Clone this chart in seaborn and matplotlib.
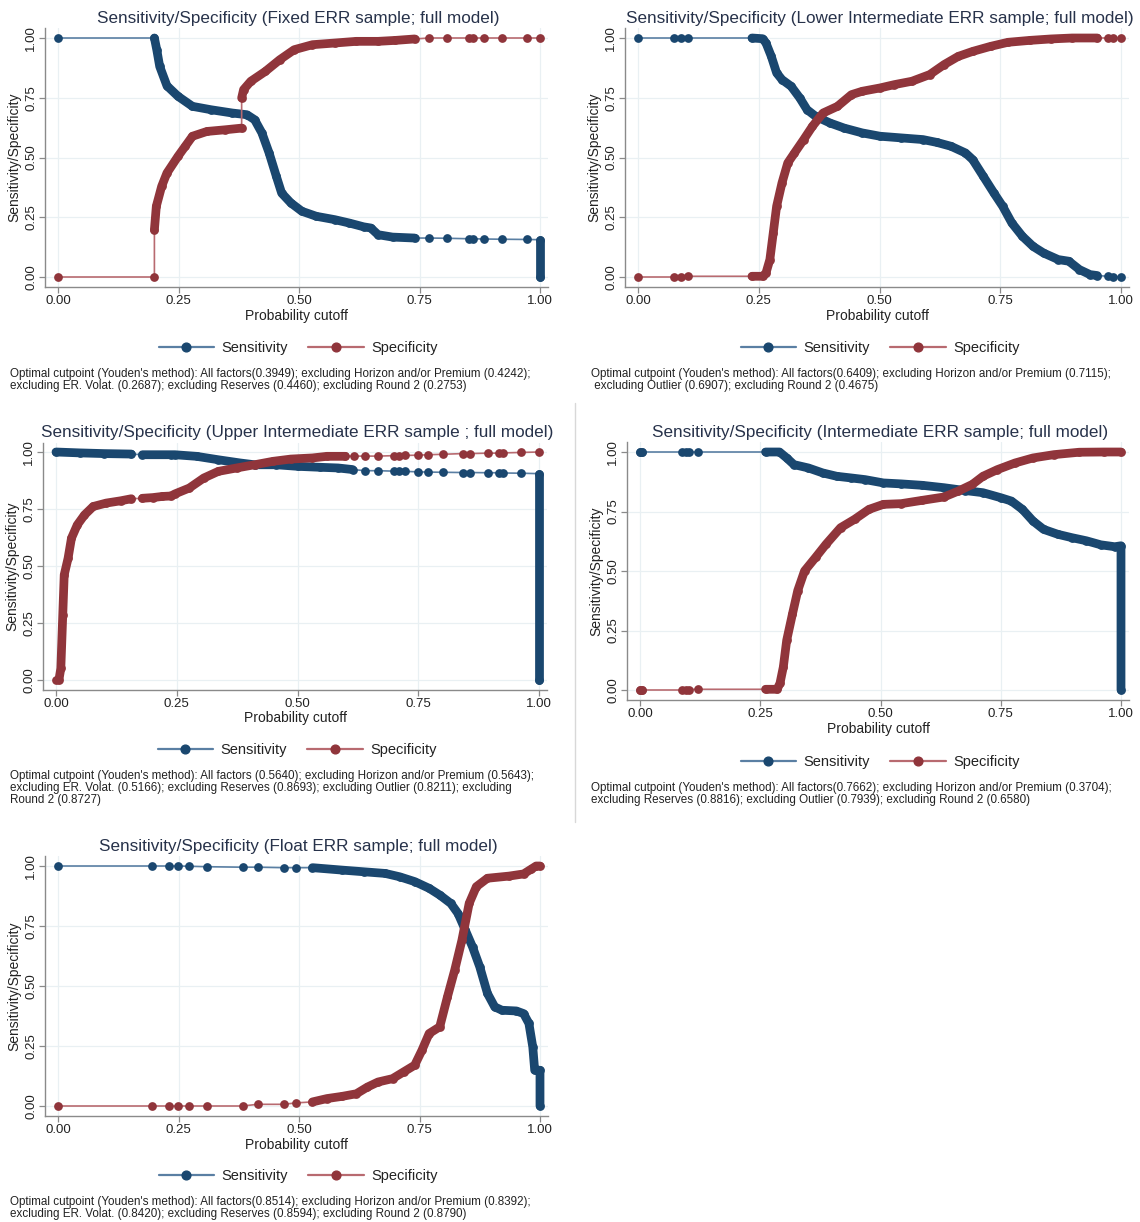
import matplotlib
matplotlib.use("Agg")
import matplotlib.pyplot as plt
from matplotlib.lines import Line2D
import seaborn as sns

sns.set_theme(style="white")
plt.rcParams['font.family'] = ['Liberation Sans', 'DejaVu Sans']

# ---------------- data ----------------
# Panel 1: Fixed ERR
fixed_sens_x = [0.000, 0.200, 0.205, 0.211, 0.226, 0.249, 0.279, 0.317, 0.362, 0.392,
                0.408, 0.423, 0.438, 0.453, 0.464, 0.483, 0.506, 0.536, 0.574, 0.604,
                0.634, 0.649, 0.664, 0.694, 0.740, 0.770, 0.808, 0.853, 0.860, 0.883,
                0.921, 0.974, 1.000, 1.000]
fixed_sens_y = [1.000, 1.000, 0.950, 0.881, 0.800, 0.756, 0.714, 0.700, 0.686, 0.679,
                0.658, 0.603, 0.519, 0.421, 0.351, 0.310, 0.275, 0.254, 0.240, 0.226,
                0.210, 0.205, 0.177, 0.167, 0.163, 0.163, 0.162, 0.160, 0.160, 0.159,
                0.158, 0.157, 0.156, 0.000]
fixed_sens_dense = [(1, 24), (32, 33)]
fixed_spec_x = [0.000, 0.200, 0.200, 0.204, 0.215, 0.226, 0.249, 0.264, 0.279, 0.309,
                0.347, 0.381, 0.381, 0.385, 0.400, 0.430, 0.460, 0.490, 0.528, 0.574,
                0.619, 0.664, 0.700, 0.740, 0.770, 0.808, 0.853, 0.860, 0.883, 0.921,
                0.974, 1.000]
fixed_spec_y = [0.000, 0.000, 0.198, 0.296, 0.379, 0.435, 0.505, 0.547, 0.589, 0.609,
                0.616, 0.623, 0.749, 0.784, 0.819, 0.860, 0.909, 0.951, 0.972, 0.979,
                0.986, 0.986, 0.990, 0.996, 1.000, 1.000, 1.000, 1.000, 1.000, 1.000,
                1.000, 1.000]
fixed_spec_dense = [(2, 11), (12, 23)]

# Panel 2: Lower Intermediate ERR
lower_sens_x = [0.000, 0.075, 0.088, 0.103, 0.236, 0.258, 0.265, 0.276, 0.287, 0.298,
                0.317, 0.335, 0.350, 0.368, 0.398, 0.427, 0.464, 0.501, 0.545, 0.590,
                0.619, 0.648, 0.678, 0.693, 0.715, 0.737, 0.755, 0.774, 0.796, 0.818,
                0.840, 0.870, 0.892, 0.914, 0.936, 0.951, 0.973, 0.984, 1.000]
lower_sens_y = [1.000, 1.000, 1.000, 1.000, 1.000, 0.997, 0.979, 0.923, 0.854, 0.826,
                0.798, 0.749, 0.700, 0.672, 0.644, 0.623, 0.603, 0.589, 0.582, 0.575,
                0.563, 0.547, 0.519, 0.491, 0.421, 0.351, 0.296, 0.226, 0.170, 0.128,
                0.100, 0.073, 0.066, 0.031, 0.010, 0.006, 0.003, 0.002, 0.000]
lower_sens_dense = [(4, 35)]
lower_spec_x = [0.000, 0.075, 0.088, 0.103, 0.236, 0.258, 0.265, 0.273, 0.280, 0.287,
                0.298, 0.310, 0.324, 0.343, 0.361, 0.383, 0.413, 0.442, 0.464, 0.501,
                0.531, 0.567, 0.604, 0.634, 0.663, 0.693, 0.730, 0.766, 0.811, 0.855,
                0.899, 0.951, 0.973, 0.984, 1.000]
lower_spec_y = [0.000, 0.000, 0.002, 0.003, 0.003, 0.003, 0.017, 0.073, 0.184, 0.296,
                0.393, 0.477, 0.519, 0.575, 0.630, 0.686, 0.714, 0.763, 0.777, 0.791,
                0.805, 0.819, 0.847, 0.889, 0.923, 0.944, 0.965, 0.982, 0.990, 0.996,
                1.000, 1.000, 1.000, 1.000, 1.000]
lower_spec_dense = [(4, 31)]

# Panel 3: Upper Intermediate ERR
upper_sens_x = [0.000, 0.050, 0.100, 0.156, 0.179, 0.238, 0.246, 0.291, 0.336, 0.381,
                0.411, 0.456, 0.501, 0.546, 0.584, 0.614, 0.640, 0.666, 0.700, 0.711,
                0.722, 0.749, 0.771, 0.801, 0.842, 0.857, 0.895, 0.917, 0.925, 0.962,
                1.000, 1.000]
upper_sens_y = [1.000, 0.996, 0.993, 0.991, 0.988, 0.988, 0.988, 0.981, 0.966, 0.952,
                0.944, 0.944, 0.937, 0.933, 0.930, 0.923, 0.918, 0.918, 0.916, 0.916,
                0.915, 0.913, 0.912, 0.911, 0.910, 0.910, 0.909, 0.909, 0.908, 0.907,
                0.905, 0.000]
upper_sens_dense = [(0, 3), (4, 15), (30, 31)]
upper_spec_x = [0.000, 0.006, 0.010, 0.014, 0.017, 0.025, 0.032, 0.044, 0.059, 0.077,
                0.104, 0.134, 0.156, 0.179, 0.200, 0.220, 0.238, 0.246, 0.276, 0.306,
                0.336, 0.374, 0.411, 0.449, 0.486, 0.531, 0.561, 0.599, 0.617, 0.640,
                0.666, 0.700, 0.711, 0.722, 0.749, 0.771, 0.801, 0.842, 0.857, 0.895,
                0.917, 0.925, 0.962, 1.000]
upper_spec_y = [0.000, 0.000, 0.051, 0.286, 0.461, 0.534, 0.622, 0.680, 0.724, 0.761,
                0.776, 0.786, 0.795, 0.797, 0.800, 0.805, 0.807, 0.816, 0.842, 0.886,
                0.915, 0.930, 0.944, 0.959, 0.969, 0.974, 0.981, 0.981, 0.982, 0.982,
                0.982, 0.984, 0.984, 0.985, 0.986, 0.988, 0.990, 0.993, 0.993, 0.995,
                0.995, 0.996, 0.998, 1.000]
upper_spec_dense = [(1, 12), (13, 27)]

# Panel 4: Intermediate ERR
inter_sens_x = [0.000, 0.005, 0.087, 0.095, 0.102, 0.120, 0.261, 0.290, 0.305, 0.320,
                0.350, 0.380, 0.409, 0.439, 0.468, 0.506, 0.543, 0.587, 0.632, 0.676,
                0.713, 0.750, 0.772, 0.795, 0.817, 0.839, 0.869, 0.898, 0.928, 0.958,
                0.987, 1.000, 1.000]
inter_sens_y = [1.000, 1.000, 1.000, 1.000, 1.000, 1.000, 1.000, 1.000, 0.975, 0.947,
                0.933, 0.912, 0.898, 0.891, 0.884, 0.870, 0.866, 0.860, 0.850, 0.838,
                0.829, 0.808, 0.794, 0.759, 0.710, 0.675, 0.654, 0.640, 0.627, 0.610,
                0.602, 0.606, 0.000]
inter_sens_dense = [(0, 1), (6, 32)]
inter_spec_x = [0.000, 0.005, 0.087, 0.095, 0.102, 0.120, 0.261, 0.285, 0.291, 0.298,
                0.305, 0.317, 0.328, 0.342, 0.365, 0.387, 0.417, 0.446, 0.476, 0.506,
                0.543, 0.587, 0.632, 0.662, 0.691, 0.713, 0.743, 0.780, 0.817, 0.861,
                0.913, 0.965, 1.000]
inter_spec_y = [0.000, 0.000, 0.000, 0.001, 0.002, 0.003, 0.003, 0.003, 0.028, 0.097,
                0.209, 0.320, 0.418, 0.500, 0.557, 0.613, 0.682, 0.717, 0.759, 0.780,
                0.783, 0.797, 0.811, 0.836, 0.864, 0.898, 0.926, 0.954, 0.975, 0.989,
                0.999, 1.000, 1.000]
inter_spec_dense = [(0, 1), (6, 32)]

# Panel 5: Float ERR
float_sens_x = [0.000, 0.196, 0.230, 0.249, 0.272, 0.309, 0.383, 0.414, 0.468, 0.494,
                0.528, 0.589, 0.634, 0.679, 0.709, 0.740, 0.770, 0.792, 0.815, 0.830,
                0.845, 0.860, 0.875, 0.891, 0.906, 0.921, 0.951, 0.966, 0.977, 0.985,
                0.989, 1.000, 1.000]
float_sens_y = [1.000, 1.000, 1.000, 1.000, 0.999, 0.997, 0.995, 0.995, 0.993, 0.993,
                0.993, 0.983, 0.976, 0.969, 0.955, 0.935, 0.907, 0.879, 0.844, 0.802,
                0.733, 0.663, 0.580, 0.469, 0.413, 0.399, 0.396, 0.385, 0.344, 0.246,
                0.149, 0.149, 0.000]
float_sens_dense = [(10, 32)]
float_spec_x = [0.000, 0.196, 0.230, 0.249, 0.272, 0.309, 0.383, 0.414, 0.468, 0.494,
                0.528, 0.558, 0.589, 0.619, 0.642, 0.664, 0.694, 0.717, 0.740, 0.755,
                0.770, 0.792, 0.808, 0.823, 0.838, 0.853, 0.868, 0.891, 0.936, 0.966,
                0.981, 0.992, 1.000]
float_spec_y = [0.000, 0.000, 0.000, 0.000, 0.000, 0.000, 0.000, 0.007, 0.007, 0.013,
                0.017, 0.031, 0.040, 0.051, 0.079, 0.100, 0.114, 0.142, 0.170, 0.232,
                0.302, 0.330, 0.455, 0.566, 0.691, 0.844, 0.914, 0.949, 0.958, 0.967,
                0.986, 1.000, 1.000]
float_spec_dense = [(10, 32)]

titles = [
    "Sensitivity/Specificity (Fixed ERR sample; full model)",
    "Sensitivity/Specificity (Lower Intermediate ERR sample; full model)",
    "Sensitivity/Specificity (Upper Intermediate ERR sample ; full model)",
    "Sensitivity/Specificity (Intermediate ERR sample; full model)",
    "Sensitivity/Specificity (Float ERR sample; full model)",
]
notes = [
    "Optimal cutpoint (Youden's method): All factors(0.3949); excluding Horizon and/or Premium (0.4242);\n"
    "excluding ER. Volat. (0.2687); excluding Reserves (0.4460); excluding Round 2 (0.2753)",
    "Optimal cutpoint (Youden's method): All factors(0.6409); excluding Horizon and/or Premium (0.7115);\n"
    " excluding Outlier (0.6907); excluding Round 2 (0.4675)",
    "Optimal cutpoint (Youden's method): All factors (0.5640); excluding Horizon and/or Premium (0.5643);\n"
    "excluding ER. Volat. (0.5166); excluding Reserves (0.8693); excluding Outlier (0.8211); excluding\n"
    "Round 2 (0.8727)",
    "Optimal cutpoint (Youden's method): All factors(0.7662); excluding Horizon and/or Premium (0.3704);\n"
    "excluding Reserves (0.8816); excluding Outlier (0.7939); excluding Round 2 (0.6580)",
    "Optimal cutpoint (Youden's method): All factors(0.8514); excluding Horizon and/or Premium (0.8392);\n"
    "excluding ER. Volat. (0.8420); excluding Reserves (0.8594); excluding Round 2 (0.8790)",
]
tick_vals = [0.0, 0.25, 0.5, 0.75, 1.0]
tick_labels = ["0.00", "0.25", "0.50", "0.75", "1.00"]
series_names = ["Sensitivity", "Specificity"]

# ---------------- style / layout ----------------
W, H = 1140, 1222
NAVY, MAROON = "#1a476f", "#90353b"
NAVY_L, MAROON_L = "#5a7fa3", "#b86a70"
TXT = "#222222"
TITLE_C = "#27324a"
SPINE = "#8a8a8a"
GRID = "#e9f0f3"
XLIM = (-0.027, 1.017)
YLIM = (-0.042, 1.04)

# (x of 0.00, x of 1.00, y of 0.00, y of 1.00, title y, legend y, notes x, notes top y, center x)
layout = [
    (58, 540, 277, 38, 18, 348, 10, 368, 298),
    (638, 1121, 277, 38, 18, 348, 591, 368, 880),
    (56, 539, 680, 452, 432, 750, 10, 770, 297),
    (640, 1121, 690, 452, 432, 762, 591, 782, 880),
    (58, 540, 1106, 866, 846, 1176, 10, 1196, 298),
]
curves = [
    ((fixed_sens_x, fixed_sens_y, fixed_sens_dense), (fixed_spec_x, fixed_spec_y, fixed_spec_dense)),
    ((lower_sens_x, lower_sens_y, lower_sens_dense), (lower_spec_x, lower_spec_y, lower_spec_dense)),
    ((upper_sens_x, upper_sens_y, upper_sens_dense), (upper_spec_x, upper_spec_y, upper_spec_dense)),
    ((inter_sens_x, inter_sens_y, inter_sens_dense), (inter_spec_x, inter_spec_y, inter_spec_dense)),
    ((float_sens_x, float_sens_y, float_sens_dense), (float_spec_x, float_spec_y, float_spec_dense)),
]

fig = plt.figure(figsize=(W / 100, H / 100), dpi=100)
fig.patch.set_facecolor("white")

MS = 6.3  # marker diameter in points


def draw_curve(ax, xs, ys, dense, col, col_l, z):
    sns.lineplot(x=xs, y=ys, sort=False, estimator=None, color=col_l, lw=1.2,
                 ax=ax, legend=False, zorder=z)
    for a, b in dense:
        sns.lineplot(x=xs[a:b + 1], y=ys[a:b + 1], sort=False, estimator=None,
                     color=col, lw=MS, solid_capstyle="round", solid_joinstyle="round",
                     ax=ax, legend=False, zorder=z + 0.5)
    sns.scatterplot(x=xs, y=ys, color=col, s=MS ** 2, linewidth=0, ax=ax,
                    legend=False, zorder=z + 0.6)


for i, (x0, x1, y0, y1, ty, ly, nx, ny, cx) in enumerate(layout):
    sx = x1 - x0
    sy = y0 - y1
    left = x0 + XLIM[0] * sx
    right = x0 + XLIM[1] * sx
    bottom = y0 - YLIM[0] * sy
    top = y0 - YLIM[1] * sy
    ax = fig.add_axes([left / W, 1 - bottom / H, (right - left) / W, (bottom - top) / H])
    ax.set_facecolor("white")
    ax.set_xlim(*XLIM)
    ax.set_ylim(*YLIM)

    (sxs, sys_, sd), (pxs, pys, pd) = curves[i]
    draw_curve(ax, sxs, sys_, sd, NAVY, NAVY_L, 3)
    draw_curve(ax, pxs, pys, pd, MAROON, MAROON_L, 5)

    ax.set_xticks(tick_vals)
    ax.set_xticklabels(tick_labels, fontsize=9.5, color=TXT)
    ax.set_yticks(tick_vals)
    ax.set_yticklabels(tick_labels, fontsize=9.5, color=TXT, rotation=90, va="center")
    ax.tick_params(axis="both", direction="out", length=4, width=0.9, color=SPINE, pad=2,
                   bottom=True, left=True)
    ax.tick_params(axis="y", pad=1.5)
    ax.grid(True, color=GRID, lw=0.9, zorder=0)
    ax.set_axisbelow(True)
    for s in ["top", "right"]:
        ax.spines[s].set_visible(False)
    for s in ["left", "bottom"]:
        ax.spines[s].set_color(SPINE)
        ax.spines[s].set_linewidth(1.0)

    ax.set_xlabel("Probability cutoff", fontsize=10, color=TXT, labelpad=1)
    ax.set_ylabel("Sensitivity/Specificity", fontsize=10, color=TXT, va="center")
    ax.yaxis.set_label_coords(-31.0 / (right - left), 0.5)

    fig.text(cx / W, 1 - ty / H, titles[i], ha="center", va="center",
             fontsize=12.3, color=TITLE_C)

    handles = [
        Line2D([0], [0], color=NAVY_L, lw=1.6, marker="o", ms=MS,
               markerfacecolor=NAVY, markeredgecolor=NAVY),
        Line2D([0], [0], color=MAROON_L, lw=1.6, marker="o", ms=MS,
               markerfacecolor=MAROON, markeredgecolor=MAROON),
    ]
    leg = ax.legend(handles, series_names, loc="center", ncol=2, frameon=False,
                    bbox_to_anchor=(cx / W, 1 - ly / H), bbox_transform=fig.transFigure,
                    fontsize=10.5, handlelength=3.8, handletextpad=0.5, columnspacing=1.4)
    for t in leg.get_texts():
        t.set_color(TXT)

    fig.text(nx / W, 1 - ny / H, notes[i], ha="left", va="top", fontsize=8.4,
             color=TXT, linespacing=0.98)

# thin separator border of the right-middle panel
fig.add_artist(Line2D([575 / W, 575 / W], [1 - 403 / H, 1 - 822 / H],
                      transform=fig.transFigure, color="#d8d8d8", lw=1))

fig.savefig("out.png", dpi=100, facecolor="white")
